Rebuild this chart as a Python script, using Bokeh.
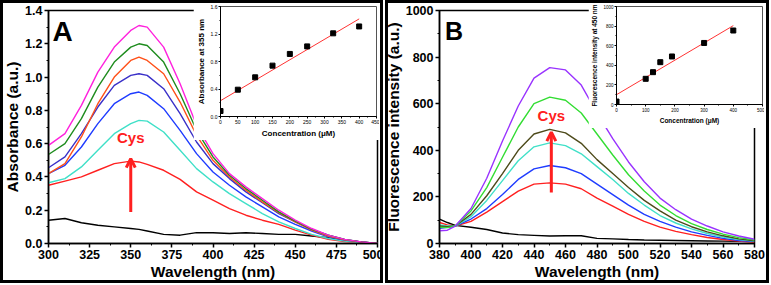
from bokeh.plotting import figure
from bokeh.models import (Range1d, Label, Arrow, OpenHead, GridBox, Div,
                          SingleIntervalTicker, NumeralTickFormatter)
from bokeh.embed import file_html
from bokeh.resources import INLINE

FONT = "Liberation Sans"

# ---------------- Panel A: absorbance spectra ----------------
wl_a = [300, 310, 320, 330, 340, 350, 355, 360, 370, 380, 390, 400, 410, 420, 430, 440, 450, 460, 470, 480, 490, 500]
abs_black = [0.14, 0.15, 0.125, 0.11, 0.10, 0.09, 0.085, 0.075, 0.055, 0.05, 0.065, 0.065, 0.06, 0.065, 0.06, 0.055, 0.055, 0.045, 0.035, 0.02, 0.01, 0.0]
abs_red = [0.35, 0.375, 0.40, 0.44, 0.48, 0.495, 0.49, 0.475, 0.44, 0.385, 0.31, 0.26, 0.21, 0.17, 0.14, 0.115, 0.08, 0.05, 0.025, 0.012, 0.005, 0.0]
abs_cyan = [0.365, 0.39, 0.46, 0.56, 0.66, 0.72, 0.74, 0.735, 0.67, 0.56, 0.45, 0.37, 0.30, 0.24, 0.18, 0.13, 0.09, 0.055, 0.03, 0.015, 0.005, 0.0]
abs_blue = [0.42, 0.47, 0.58, 0.72, 0.84, 0.90, 0.91, 0.89, 0.81, 0.68, 0.54, 0.43, 0.35, 0.28, 0.22, 0.16, 0.115, 0.075, 0.04, 0.02, 0.008, 0.0]
abs_indigo = [0.455, 0.52, 0.66, 0.82, 0.95, 1.01, 1.02, 1.01, 0.93, 0.78, 0.61, 0.48, 0.39, 0.31, 0.245, 0.18, 0.13, 0.085, 0.05, 0.025, 0.01, 0.0]
abs_orange = [0.42, 0.48, 0.64, 0.84, 1.00, 1.10, 1.12, 1.10, 1.02, 0.85, 0.65, 0.50, 0.40, 0.32, 0.25, 0.185, 0.13, 0.08, 0.045, 0.022, 0.008, 0.0]
abs_green = [0.535, 0.60, 0.75, 0.94, 1.09, 1.18, 1.20, 1.19, 1.09, 0.90, 0.68, 0.52, 0.41, 0.33, 0.26, 0.19, 0.135, 0.085, 0.05, 0.025, 0.01, 0.0]
abs_magenta = [0.59, 0.66, 0.83, 1.03, 1.18, 1.28, 1.31, 1.30, 1.18, 0.96, 0.71, 0.54, 0.42, 0.34, 0.27, 0.20, 0.14, 0.09, 0.05, 0.025, 0.01, 0.0]
series_a = [
    (abs_black, "#000000"), (abs_red, "#ff2020"), (abs_cyan, "#40e0c8"), (abs_blue, "#1f3cff"),
    (abs_indigo, "#3a30c8"), (abs_orange, "#ff5018"), (abs_green, "#1e8c1e"), (abs_magenta, "#ff22dd"),
]

# inset A
conc_a = [0, 50, 100, 150, 200, 250, 325, 400]
abs355 = [0.08, 0.39, 0.57, 0.74, 0.91, 1.02, 1.21, 1.31]
fit_a_x = [0, 400]
fit_a_y = [0.23, 1.42]

# ---------------- Panel B: fluorescence spectra ----------------
wl_b = [380, 385, 390, 400, 410, 420, 430, 440, 450, 460, 470, 480, 490, 500, 510, 520, 530, 540, 550, 560, 570, 580]
fl_black = [105, 90, 78, 70, 60, 45, 38, 35, 32, 33, 33, 22, 20, 17, 15, 14, 13, 12, 11, 10, 9, 8]
fl_red = [90, 80, 75, 95, 135, 180, 225, 255, 260, 255, 235, 195, 160, 125, 95, 70, 52, 38, 26, 17, 10, 5]
fl_blue = [65, 70, 75, 105, 150, 210, 275, 320, 335, 325, 300, 255, 210, 165, 125, 95, 70, 50, 35, 22, 13, 8]
fl_cyan = [80, 75, 75, 115, 185, 270, 355, 415, 432, 420, 385, 330, 275, 215, 165, 120, 88, 63, 43, 28, 17, 10]
fl_olive = [75, 72, 75, 125, 205, 300, 400, 470, 490, 475, 430, 360, 300, 240, 185, 140, 100, 72, 50, 33, 20, 12]
fl_green = [70, 68, 75, 140, 240, 370, 500, 600, 628, 615, 560, 470, 380, 295, 225, 165, 120, 85, 60, 40, 25, 15]
fl_purple = [55, 57, 75, 150, 280, 440, 590, 710, 755, 745, 680, 560, 450, 350, 265, 195, 145, 105, 75, 50, 32, 18]
series_b = [
    (fl_black, "#000000"), (fl_red, "#ff2020"), (fl_blue, "#1f3cff"), (fl_cyan, "#40e0c8"),
    (fl_olive, "#4d4a1a"), (fl_green, "#33dd33"), (fl_purple, "#9933ff"),
]

# inset B
conc_b = [0, 100, 125, 150, 190, 300, 400]
fl450 = [30, 262, 330, 432, 490, 628, 755]
fit_b_x = [0, 400]
fit_b_y = [100, 805]


def style_main(p, ylab, xtick, ytick, yfmt=None):
    p.xgrid.visible = False
    p.ygrid.visible = False
    p.outline_line_color = "black"
    p.outline_line_width = 1.5
    p.background_fill_color = "white"
    p.border_fill_color = "white"
    for ax in (p.xaxis[0], p.yaxis[0]):
        ax.axis_line_width = 1.5
        ax.major_tick_line_width = 1.5
        ax.minor_tick_line_width = 1
        ax.major_tick_out = 4
        ax.major_tick_in = 0
        ax.minor_tick_out = 2
        ax.minor_tick_in = 0
        ax.major_label_text_font = FONT
        ax.major_label_text_font_style = "bold"
        ax.major_label_text_font_size = "12.5px"
        ax.major_label_text_color = "black"
        ax.axis_label_text_font = FONT
        ax.axis_label_text_font_style = "bold"
        ax.axis_label_text_font_size = "15.5px"
        ax.axis_label_text_color = "black"
        ax.major_label_standoff = 2
        ax.axis_label_standoff = 1
    p.xaxis[0].ticker = SingleIntervalTicker(interval=xtick, num_minor_ticks=2)
    p.yaxis[0].ticker = SingleIntervalTicker(interval=ytick, num_minor_ticks=2)
    p.xaxis[0].axis_label = "Wavelength (nm)"
    p.yaxis[0].axis_label = ylab
    if yfmt:
        p.yaxis[0].formatter = NumeralTickFormatter(format=yfmt)


def style_inset(p, xlab, ylab, xtick, ytick, lab_size, tick_size, yfmt=None):
    p.xgrid.visible = False
    p.ygrid.visible = False
    p.outline_line_color = "#555555"
    p.outline_line_width = 1
    p.background_fill_color = "white"
    p.border_fill_color = "white"
    for ax in (p.xaxis[0], p.yaxis[0]):
        ax.axis_line_width = 1
        ax.major_tick_out = 2
        ax.major_tick_in = 0
        ax.minor_tick_out = 1
        ax.minor_tick_in = 0
        ax.major_label_text_font = FONT
        ax.major_label_text_font_size = tick_size
        ax.major_label_text_color = "black"
        ax.axis_label_text_font = FONT
        ax.axis_label_text_font_style = "bold"
        ax.axis_label_text_font_size = lab_size
        ax.axis_label_text_color = "black"
        ax.major_label_standoff = 1
        ax.axis_label_standoff = 2
    p.xaxis[0].ticker = SingleIntervalTicker(interval=xtick, num_minor_ticks=2)
    p.yaxis[0].ticker = SingleIntervalTicker(interval=ytick, num_minor_ticks=2)
    p.xaxis[0].axis_label = xlab
    p.yaxis[0].axis_label = ylab
    if yfmt:
        p.yaxis[0].formatter = NumeralTickFormatter(format=yfmt)


def border_div(w, h):
    return Div(text="", width=w, height=h,
               styles={"border": "3px solid black", "box-sizing": "border-box",
                       "background": "transparent", "pointer-events": "none",
                       "margin": "0px", "padding": "0px"})


# ---- main A ----
pA = figure(width=383, height=283, output_backend="svg", toolbar_location=None,
            x_range=Range1d(300, 500), y_range=Range1d(0, 1.4000001),
            min_border_left=48, min_border_right=6, min_border_top=10, min_border_bottom=38)
style_main(pA, "Absorbance (a.u.)", 25, 0.2, "0.0")
for ys, c in series_a:
    pA.line(wl_a, ys, line_color=c, line_width=1.4)
pA.add_layout(Arrow(x_start=350, y_start=0.19, x_end=350, y_end=0.51,
                    line_color="#ff2020", line_width=3,
                    end=OpenHead(size=9, line_color="#ff2020", line_width=3)))
pA.add_layout(Label(x=350, y=0.637, text="Cys", text_align="center", text_baseline="middle",
                    text_font=FONT, text_font_style="bold", text_font_size="15px", text_color="#ff2020"))
pA.add_layout(Label(x=302.5, y=1.274, text="A", text_baseline="middle",
                    text_font=FONT, text_font_style="bold", text_font_size="28px", text_color="black"))

# ---- inset A ----
iA = figure(width=186, height=137, output_backend="svg", toolbar_location=None,
            x_range=Range1d(0, 450), y_range=Range1d(0, 1.6000001),
            min_border_left=25, min_border_right=3, min_border_top=3, min_border_bottom=22)
style_inset(iA, "Concentration (\u03bcM)", "Absorbance at 355 nm", 50, 0.4, "8px", "5px", "0.0")
iA.line(fit_a_x, fit_a_y, line_color="#ff3333", line_width=1)
iA.scatter(conc_a, abs355, marker="square", size=5, color="black")

# ---- main B ----
pB = figure(width=388, height=283, output_backend="svg", toolbar_location=None,
            x_range=Range1d(380, 580), y_range=Range1d(0, 1000),
            min_border_left=52, min_border_right=15, min_border_top=10, min_border_bottom=40)
style_main(pB, "Fluorescence intensity (a.u.)", 20, 200)
for ys, c in series_b:
    pB.line(wl_b, ys, line_color=c, line_width=1.4)
pB.add_layout(Arrow(x_start=451, y_start=219, x_end=451, y_end=478,
                    line_color="#ff2020", line_width=3,
                    end=OpenHead(size=9, line_color="#ff2020", line_width=3)))
pB.add_layout(Label(x=451, y=549, text="Cys", text_align="center", text_baseline="middle",
                    text_font=FONT, text_font_style="bold", text_font_size="15px", text_color="#ff2020"))
pB.add_layout(Label(x=383.5, y=910, text="B", text_baseline="middle",
                    text_font=FONT, text_font_style="bold", text_font_size="25px", text_color="black"))

# ---- inset B ----
iB = figure(width=176, height=125, output_backend="svg", toolbar_location=None,
            x_range=Range1d(0, 500), y_range=Range1d(0, 1000),
            min_border_left=28, min_border_right=2, min_border_top=2, min_border_bottom=18)
style_inset(iB, "Concentration (\u03bcM)", "Fluorescence intensity at 450 nm", 100, 200, "6.5px", "4.5px")
iB.line(fit_b_x, fit_b_y, line_color="#ff3333", line_width=1)
iB.scatter(conc_b, fl450, marker="square", size=5, color="black")

bA = border_div(383, 283)
bB = border_div(384, 283)

# column edges: 0,193,380,381,383,385,588,765,769 ; row edges: 0,3,140,283
grid = GridBox(children=[(pA, 0, 0, 3, 4), (iA, 1, 1), (pB, 0, 3, 3, 5), (iB, 1, 6),
                         (bA, 0, 0, 3, 4), (bB, 0, 5, 3, 3)],
               cols=["193px", "187px", "1px", "2px", "2px", "203px", "177px", "4px"],
               rows=["3px", "137px", "143px"], spacing=0)

open("out.html", "w").write(file_html(grid, INLINE))
